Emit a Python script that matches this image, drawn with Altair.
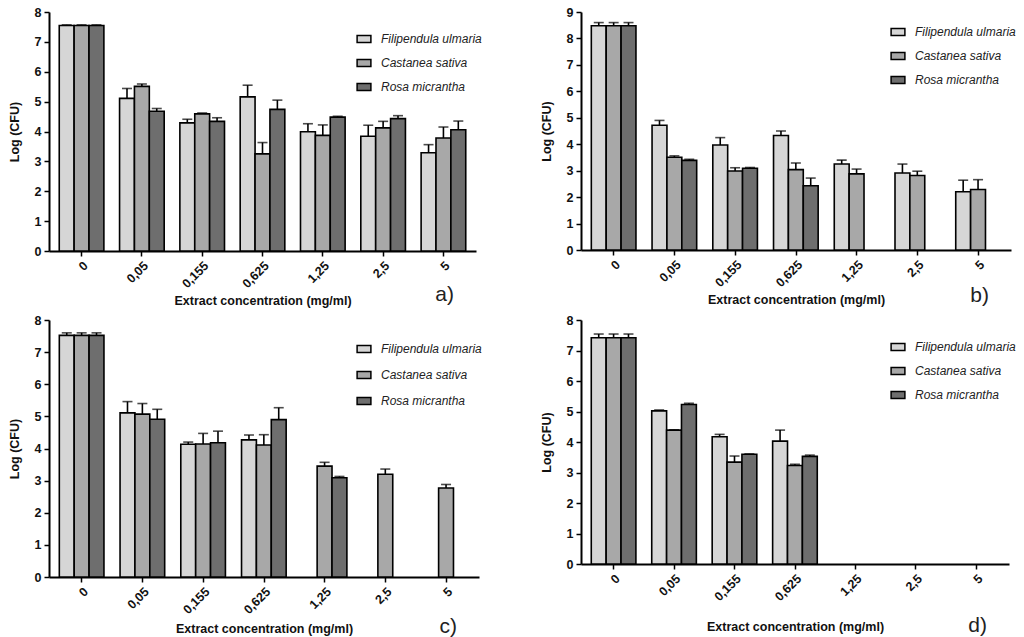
import altair as alt
import pandas as pd

concs = ["0", "0,05", "0,155", "0,625", "1,25", "2,5", "5"]
species = ["Filipendula ulmaria", "Castanea sativa", "Rosa micrantha"]
fills = ["#d6d6d6", "#a8a8a8", "#6e6e6e"]

# panel a
a_filip = [7.55, 5.11, 4.29, 5.16, 3.99, 3.84, 3.29]
a_filip_err = [0.02, 0.33, 0.12, 0.39, 0.27, 0.37, 0.27]
a_cast = [7.55, 5.51, 4.59, 3.25, 3.87, 4.12, 3.78]
a_cast_err = [0.02, 0.08, 0.03, 0.38, 0.35, 0.22, 0.37]
a_rosa = [7.55, 4.68, 4.34, 4.74, 4.48, 4.43, 4.06]
a_rosa_err = [0.02, 0.09, 0.12, 0.31, 0.03, 0.10, 0.29]

# panel b
b_filip = [8.48, 4.72, 3.97, 4.33, 3.25, 2.91, 2.20]
b_filip_err = [0.12, 0.18, 0.28, 0.17, 0.15, 0.34, 0.44]
b_cast = [8.48, 3.51, 2.99, 3.04, 2.88, 2.82, 2.29]
b_cast_err = [0.12, 0.05, 0.12, 0.25, 0.18, 0.16, 0.37]
b_rosa = [8.48, 3.39, 3.09, 2.43, None, None, None]
b_rosa_err = [0.12, 0.04, 0.03, 0.29, None, None, None]

# panel c
c_filip = [7.52, 5.11, 4.13, 4.27, None, None, None]
c_filip_err = [0.08, 0.35, 0.07, 0.15, None, None, None]
c_cast = [7.52, 5.07, 4.14, 4.11, 3.45, 3.20, 2.77]
c_cast_err = [0.08, 0.33, 0.33, 0.32, 0.12, 0.16, 0.11]
c_rosa = [7.52, 4.91, 4.18, 4.90, 3.09, None, None]
c_rosa_err = [0.08, 0.31, 0.36, 0.37, 0.04, None, None]

# panel d
d_filip = [7.42, 5.02, 4.17, 4.03, None, None, None]
d_filip_err = [0.12, 0.03, 0.08, 0.36, None, None, None]
d_cast = [7.42, 4.39, 3.34, 3.23, None, None, None]
d_cast_err = [0.12, 0.01, 0.20, 0.04, None, None, None]
d_rosa = [7.42, 5.23, 3.60, 3.53, None, None, None]
d_rosa_err = [0.12, 0.04, 0.01, 0.04, None, None, None]

FONT = "Liberation Sans"


def panel(label, vals, errs, ymax, width, height, legend_x, legend_y, row_pad,
          xtitle_pad, label_offset):
    rows = []
    for s, v, e in zip(species, vals, errs):
        for c, vv, ee in zip(concs, v, e):
            if vv is None:
                continue
            rows.append({"conc": c, "species": s, "value": vv, "top": vv + ee})
    df = pd.DataFrame(rows)

    x = alt.X(
        "conc:N",
        sort=concs,
        scale=alt.Scale(domain=concs, paddingInner=0.26, paddingOuter=0.17),
        axis=alt.Axis(
            title="Extract concentration (mg/ml)",
            labelAngle=315,
            titlePadding=xtitle_pad,
        ),
    )
    xo = alt.XOffset(
        "species:N",
        sort=species,
        scale=alt.Scale(domain=species, paddingInner=0, paddingOuter=0),
    )
    yscale = alt.Scale(domain=[0, ymax], nice=False, zero=True)
    yaxis = alt.Axis(
        title="Log (CFU)",
        values=list(range(0, ymax + 1)),
        labelOverlap=False,
        titlePadding=13,
    )
    y = alt.Y("value:Q", scale=yscale, axis=yaxis)
    ynoax = alt.Y("value:Q", scale=yscale, axis=None)
    ytop = alt.Y("top:Q", scale=yscale, axis=None)
    fill = alt.Fill(
        "species:N",
        sort=species,
        scale=alt.Scale(domain=species, range=fills),
        legend=alt.Legend(
            title=None,
            orient="none",
            legendX=legend_x,
            legendY=legend_y,
            symbolType="M-1,-0.5H1V0.5H-1Z",
            symbolSize=190,
            symbolStrokeColor="black",
            symbolStrokeWidth=1.5,
            labelFont=FONT,
            labelFontSize=12,
            labelFontStyle="italic",
            labelFontWeight="normal",
            labelColor="#222222",
            labelOffset=9,
            rowPadding=row_pad,
            padding=0,
        ),
    )
    bars = alt.Chart(df).mark_bar(stroke="black", strokeWidth=1.6).encode(
        x=x, xOffset=xo, y=y, fill=fill
    )
    rules = alt.Chart(df).mark_rule(color="black", strokeWidth=1.6).encode(
        x=x, xOffset=xo, y=ynoax, y2="top:Q"
    )
    caps = alt.Chart(df).mark_tick(
        color="black", orient="horizontal", size=10, thickness=1.6
    ).encode(x=x, xOffset=xo, y=ytop)
    return (
        alt.layer(bars, rules, caps)
        .resolve_axis(y="independent")
        .properties(
            width=width,
            height=height,
            title=alt.TitleParams(
                label,
                orient="bottom",
                anchor="end",
                frame="group",
                font=FONT,
                fontSize=21,
                fontWeight="normal",
                color="#222222",
                dx=-22,
                offset=label_offset,
            ),
        )
    )


pa = panel("a)", [a_filip, a_cast, a_rosa], [a_filip_err, a_cast_err, a_rosa_err],
           8, 427, 239, 307, 19, 9, 5, -23)
pb = panel("b)", [b_filip, b_cast, b_rosa], [b_filip_err, b_cast_err, b_rosa_err],
           9, 430, 238, 309, 12, 9, 5, -21)
pc = panel("c)", [c_filip, c_cast, c_rosa], [c_filip_err, c_cast_err, c_rosa_err],
           8, 430, 257, 307, 21, 11, 7, -19)
pd_ = panel("d)", [d_filip, d_cast, d_rosa], [d_filip_err, d_cast_err, d_rosa_err],
            8, 428, 244, 309, 19, 9, 18, -18)

chart = (
    alt.concat(pa, pb, pc, pd_, columns=2, spacing={"row": 6, "column": 58})
    .resolve_legend(fill="independent")
    .resolve_scale(fill="independent")
    .properties(padding={"left": 8, "top": 6, "right": 0, "bottom": 0}, background="white")
    .configure_view(stroke=None)
    .configure_axis(
        grid=False,
        domainColor="black",
        domainWidth=2,
        tickColor="black",
        tickWidth=1.5,
        tickSize=5,
        labelFont=FONT,
        labelFontSize=12.5,
        labelFontWeight="bold",
        labelColor="#111111",
        labelPadding=3,
        titleFont=FONT,
        titleFontSize=12.5,
        titleFontWeight="bold",
        titleColor="#111111",
    )
)

chart.save("out.html", embed_options={"renderer": "svg", "actions": False})
